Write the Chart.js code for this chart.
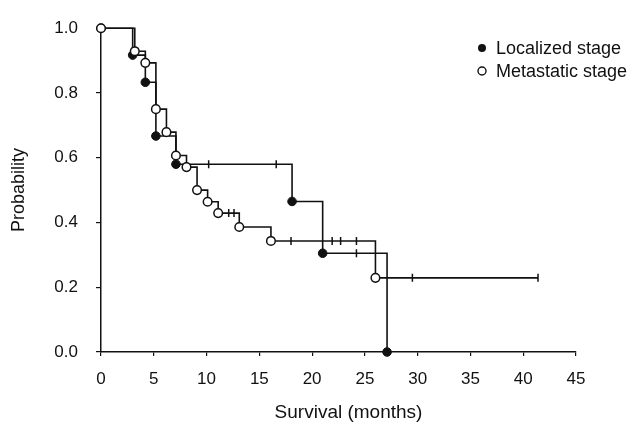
<!DOCTYPE html>
<html lang="en">
<head>
<meta charset="UTF-8">
<title>Survival by stage</title>
<script src="https://cdn.jsdelivr.net/npm/chart.js"></script>
<style>
  html, body { margin: 0; padding: 0; background: #fff; }
  #wrap { width: 633px; height: 424px; }
</style>
</head>
<body>
<div id="wrap"><canvas id="kmChart"></canvas></div>
<script>
// event times (months) and survival probability after each event
const locX = [0, 3.0, 4.2, 5.2, 7.1, 18.1, 21.0, 27.1];
const locY = [1, 0.917, 0.833, 0.667, 0.58, 0.465, 0.305, 0];
// censored patients (tick marks)
const locCensX = [10.2, 16.6, 24.2];
const locCensY = [0.58, 0.58, 0.305];

const metX = [0, 3.2, 4.2, 5.2, 6.2, 7.1, 8.1, 9.1, 10.1, 11.1, 13.1, 16.1, 26.0];
const metY = [1, 0.929, 0.893, 0.75, 0.679, 0.607, 0.571, 0.5, 0.464, 0.429, 0.386, 0.343, 0.229];
const metCensX = [12.1, 12.6, 18.0, 21.9, 22.7, 24.2, 29.5, 41.4];
const metCensY = [0.429, 0.429, 0.343, 0.343, 0.343, 0.343, 0.229, 0.229];

const seriesNames = ['Localized stage', 'Metastatic stage'];
const xTitle = 'Survival (months)';
const xTicks = [0, 5, 10, 15, 20, 25, 30, 35, 40, 45];
const yTicks = [0, 0.2, 0.4, 0.6, 0.8, 1.0];

const FONT = '"Liberation Sans", Arial, Helvetica, sans-serif';
const INK = '#111';

const pts = (xs, ys) => xs.map((x, i) => ({ x: x, y: ys[i] }));
const stepLine = (ex, ey, cx, cy) => pts(ex, ey).concat(pts(cx, cy)).sort((a, b) => a.x - b.x);

// legend in the top right corner + x title (sits a bit right of centre in the original)
const extrasPlugin = {
    id: 'kmExtras',
    afterDraw(chart) {
        const ctx = chart.ctx;
        ctx.save();
        ctx.font = '18px ' + FONT;
        ctx.textBaseline = 'middle';
        ctx.fillStyle = INK;
        ctx.strokeStyle = INK;
        ctx.lineWidth = 1.4;
        const rows = [48, 71];
        rows.forEach((y, i) => {
            ctx.beginPath();
            ctx.arc(482, y, 4, 0, Math.PI * 2);
            if (i === 0) {
                ctx.fill();
            } else {
                ctx.fillStyle = '#fff';
                ctx.fill();
                ctx.stroke();
                ctx.fillStyle = INK;
            }
            ctx.fillText(seriesNames[i], 496, y + 1);
        });

        ctx.font = '19px ' + FONT;
        ctx.textAlign = 'center';
        ctx.fillText(xTitle, chart.chartArea.left + chart.chartArea.width / 2 + 10, 413);
        ctx.restore();
    }
};

const ctx = document.getElementById('kmChart').getContext('2d');
new Chart(ctx, {
    type: 'line',
    data: {
        datasets: [
            {
                label: seriesNames[1] + ' marks',
                data: pts(metX, metY),
                showLine: false,
                pointStyle: 'circle',
                pointRadius: 4.3,
                pointBackgroundColor: '#fff',
                pointBorderColor: INK,
                pointBorderWidth: 1.5,
                order: 0,
                clip: false
            },
            {
                label: seriesNames[0] + ' marks',
                data: pts(locX, locY),
                showLine: false,
                pointStyle: 'circle',
                pointRadius: 4.3,
                pointBackgroundColor: INK,
                pointBorderColor: INK,
                pointBorderWidth: 1,
                order: 1,
                clip: false
            },
            {
                label: 'censored metastatic',
                data: pts(metCensX, metCensY),
                showLine: false,
                pointStyle: 'line',
                rotation: 90,
                pointRadius: 4,
                pointBorderColor: INK,
                pointBorderWidth: 1.5,
                order: 2
            },
            {
                label: 'censored localized',
                data: pts(locCensX, locCensY),
                showLine: false,
                pointStyle: 'line',
                rotation: 90,
                pointRadius: 4,
                pointBorderColor: INK,
                pointBorderWidth: 1.5,
                order: 2
            },
            {
                label: seriesNames[1],
                data: stepLine(metX, metY, metCensX, metCensY),
                stepped: true,
                borderColor: INK,
                borderWidth: 1.6,
                pointRadius: 0,
                fill: false,
                order: 3,
                clip: false
            },
            {
                label: seriesNames[0],
                data: stepLine(locX, locY, locCensX, locCensY),
                stepped: true,
                borderColor: INK,
                borderWidth: 1.6,
                pointRadius: 0,
                fill: false,
                order: 4,
                clip: false
            }
        ]
    },
    options: {
        responsive: true,
        maintainAspectRatio: false,
        animation: false,
        layout: { padding: { top: 20, right: 57, left: 0, bottom: 0 } },
        scales: {
            x: {
                type: 'linear',
                min: 0,
                max: 45,
                afterFit: s => { s.height = 72; },
                afterBuildTicks: s => { s.ticks = xTicks.map(v => ({ value: v })); },
                grid: { drawOnChartArea: false, drawTicks: true, tickLength: 4, color: INK, lineWidth: 1.2 },
                border: { display: true, color: INK, width: 1.5 },
                ticks: { color: INK, font: { family: FONT, size: 17 }, padding: 13, maxRotation: 0 },
                title: { display: false }
            },
            y: {
                min: 0,
                max: 1,
                afterFit: s => { s.width = 101; },
                afterBuildTicks: s => { s.ticks = yTicks.map(v => ({ value: v })); },
                grid: { drawOnChartArea: false, drawTicks: true, tickLength: 5, color: INK, lineWidth: 1.2 },
                border: { display: true, color: INK, width: 1.5 },
                ticks: { color: INK, font: { family: FONT, size: 17 }, padding: 18, callback: v => v.toFixed(1) },
                title: { display: true, text: 'Probability', color: INK, font: { family: FONT, size: 18 }, padding: { top: 8, bottom: 0 } }
            }
        },
        plugins: {
            legend: { display: false },
            tooltip: { enabled: false }
        }
    },
    plugins: [extrasPlugin]
});
</script>
</body>
</html>
